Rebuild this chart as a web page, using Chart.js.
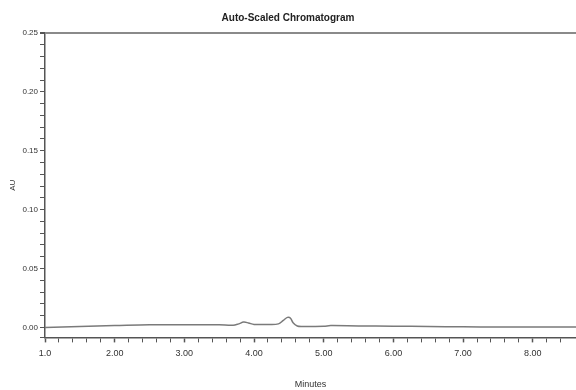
<!DOCTYPE html>
<html>
<head>
<meta charset="utf-8">
<script src="https://cdn.jsdelivr.net/npm/chart.js@4/dist/chart.umd.min.js"></script>
<style>
  html, body { margin: 0; padding: 0; background: #fff; }
  #wrap { width: 576px; height: 390px; }
</style>
</head>
<body>
<div id="wrap"><canvas id="myChart"></canvas></div>
<script>
let minutes = [1.0, 1.5, 2.0, 2.5, 3.0, 3.5, 3.7, 3.78, 3.85, 3.92, 4.0, 4.2, 4.35, 4.42, 4.48, 4.52, 4.56, 4.62, 4.7, 5.0, 5.1, 5.5, 6.0, 6.5, 7.0, 7.5, 8.0, 8.62];
let au = [0.0, 0.0008, 0.0015, 0.0022, 0.0022, 0.0022, 0.0018, 0.003, 0.0045, 0.0038, 0.0025, 0.0025, 0.003, 0.006, 0.0085, 0.008, 0.004, 0.0012, 0.0008, 0.001, 0.0015, 0.0012, 0.001, 0.0008, 0.0005, 0.0004, 0.0003, 0.0003];
let xRange = [1.0, 8.62];
let yRange = [-0.0085, 0.25];

let font = "'Liberation Sans Narrow', 'Liberation Sans', Arial, sans-serif";
let isWhole = v => Math.abs(v - Math.round(v)) < 1e-6;
let isFive = v => Math.abs(v * 20 - Math.round(v * 20)) < 1e-6;

let ctx = document.getElementById('myChart').getContext('2d');
let chart = new Chart(ctx, {
    type: 'line',
    data: {
        datasets: [{
            data: minutes.map((m, i) => ({ x: m, y: au[i] })),
            borderColor: '#7a7a7a',
            borderWidth: 1.5,
            pointRadius: 0,
            tension: 0.35,
            fill: false
        }]
    },
    options: {
        responsive: true,
        maintainAspectRatio: false,
        animation: false,
        layout: { padding: 0 },
        plugins: {
            legend: { display: false },
            tooltip: { enabled: false },
            title: {
                display: true,
                text: 'Auto-Scaled Chromatogram',
                color: '#222',
                font: { family: font, size: 10, weight: 'bold' },
                padding: { top: 12, bottom: 9 }
            }
        },
        scales: {
            x: {
                type: 'linear',
                min: xRange[0],
                max: xRange[1],
                // plot runs right to the edge of the picture
                afterFit: s => { s.paddingRight = 0; },
                border: { color: '#555', width: 1.5 },
                grid: {
                    drawOnChartArea: false,
                    tickLength: 5,
                    tickColor: '#555',
                    tickWidth: ctx => (ctx.tick && isWhole(ctx.tick.value)) ? 1.5 : 1
                },
                ticks: {
                    stepSize: 0.2,
                    autoSkip: false,
                    maxRotation: 0,
                    padding: 6,
                    color: '#333',
                    font: { family: font, size: 9 },
                    callback: v => {
                        if (!isWhole(v) || v > 8.5) return '';
                        return v === 1 ? '1.0' : v.toFixed(2);
                    }
                },
                title: {
                    display: true,
                    text: 'Minutes',
                    color: '#333',
                    font: { family: font, size: 9 },
                    padding: { top: 14, bottom: 0 }
                }
            },
            y: {
                min: yRange[0],
                max: yRange[1],
                afterFit: s => { s.width = 45; },
                border: { color: '#555', width: 1.5 },
                grid: {
                    drawOnChartArea: true,
                    tickLength: 5,
                    tickColor: '#555',
                    color: ctx => (ctx.tick && Math.abs(ctx.tick.value - 0.25) < 1e-6) ? '#8a8a8a' : 'rgba(0,0,0,0)',
                    lineWidth: ctx => (ctx.tick && Math.abs(ctx.tick.value - 0.25) < 1e-6) ? 2 : 1
                },
                ticks: {
                    stepSize: 0.01,
                    autoSkip: false,
                    padding: 2,
                    color: '#333',
                    font: { family: font, size: 8 },
                    callback: v => (v >= 0 && isFive(v)) ? v.toFixed(2) : ''
                },
                title: {
                    display: true,
                    text: 'AU',
                    color: '#333',
                    font: { family: font, size: 8 },
                    padding: { top: 8, bottom: 0 }
                }
            }
        }
    }
});
</script>
</body>
</html>
